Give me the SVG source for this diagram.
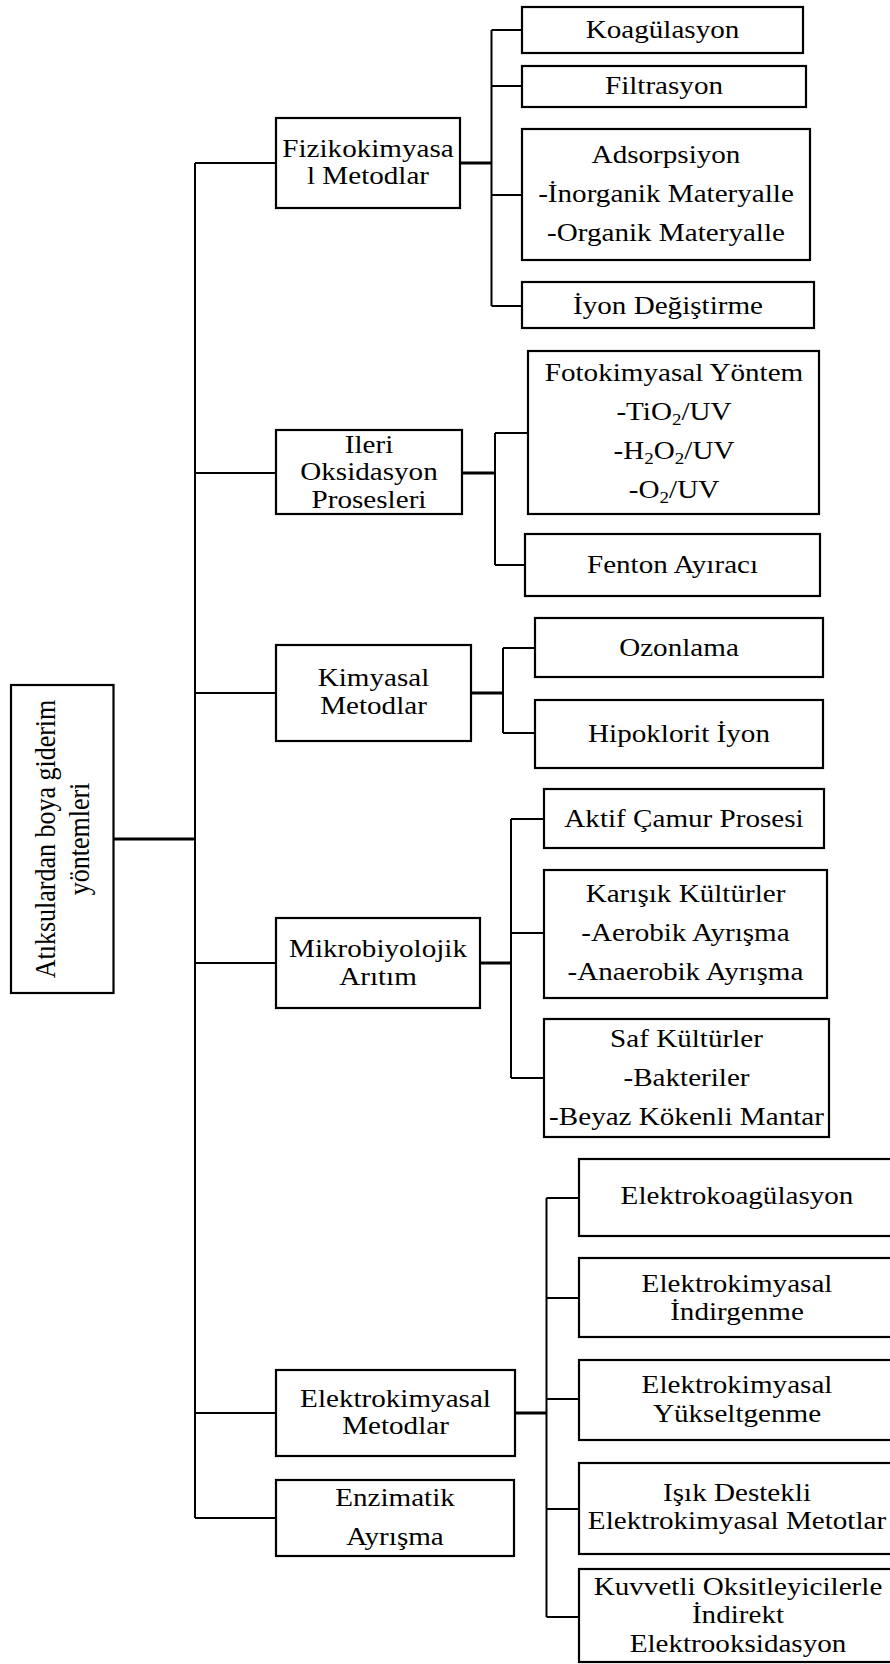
<svg xmlns="http://www.w3.org/2000/svg" width="890" height="1664" viewBox="0 0 890 1664">
<style>
rect{fill:#fff;stroke:#000;stroke-width:2.2}
text{font-family:"Liberation Serif","Times New Roman",serif;font-size:26px;text-anchor:middle;fill:#000}
.c path{fill:none;stroke:#000;stroke-width:2}
.c path.p{stroke-width:3}
.s{font-size:17px}
</style>
<rect x="0" y="0" width="890" height="1664" style="fill:#fff;stroke:none"/>
<g class="c" id="connectors">
<path class="p" d="M113.5 839H195"/>
<path d="M195 163V1518M195 163H276M195 473H276M195 693H276M195 963H276M195 1413H276M195 1518H276"/>
<path class="p" d="M460 163H491.5M462 473H495M471 693H503M480 963H511M515 1413H546.5"/>
<path d="M491.5 30V306M491.5 30H522M491.5 86H522M491.5 195H522M491.5 306H522"/>
<path d="M495 433V565M495 433H528M495 565H525"/>
<path d="M503 648V733M503 648H535M503 733H535"/>
<path d="M511 819V1078M511 819H544M511 933H544M511 1078H544"/>
<path d="M546.5 1198V1617M546.5 1198H579M546.5 1298H579M546.5 1399H579M546.5 1509H579M546.5 1617H579"/>
</g>
<g id="root"><rect x="11" y="685" width="102.5" height="308"/>
<text transform="translate(55,839) scale(1.12,1) rotate(-90)">Atıksulardan boya giderim</text>
<text transform="translate(89,839) scale(1.12,1) rotate(-90)">yöntemleri</text></g>
<g id="fiziko"><rect x="276" y="118" width="184" height="90"/>
<g transform="translate(368,0) scale(1.12,1)"><text y="156.7">Fizikokimyasa</text><text y="184.3">l Metodlar</text></g></g>
<g id="koag"><rect x="522" y="7" width="281" height="46"/>
<g transform="translate(662.5,0) scale(1.12,1)"><text y="38.5">Koagülasyon</text></g></g>
<g id="filtr"><rect x="522" y="66" width="284" height="41"/>
<g transform="translate(664,0) scale(1.12,1)"><text y="94.5">Filtrasyon</text></g></g>
<g id="adsorp"><rect x="522" y="129" width="288" height="131"/>
<g transform="translate(666,0) scale(1.12,1)"><text y="163.3">Adsorpsiyon</text><text y="202.3">-İnorganik Materyalle</text><text y="240.7">-Organik Materyalle</text></g></g>
<g id="iyon"><rect x="522" y="282" width="292" height="46"/>
<g transform="translate(668,0) scale(1.12,1)"><text y="313.6">İyon Değiştirme</text></g></g>
<g id="ileri"><rect x="276" y="430" width="186" height="84"/>
<g transform="translate(369,0) scale(1.12,1)"><text y="452.7">Ileri</text><text y="480">Oksidasyon</text><text y="508.3">Prosesleri</text></g></g>
<g id="foto"><rect x="528" y="351" width="291" height="163"/>
<g transform="translate(674,0) scale(1.12,1)"><text y="381">Fotokimyasal Yöntem</text><text y="420">-TiO<tspan class="s" dy="5">2</tspan><tspan dy="-5">/UV</tspan></text><text y="459.3">-H<tspan class="s" dy="5">2</tspan><tspan dy="-5">O</tspan><tspan class="s" dy="5">2</tspan><tspan dy="-5">/UV</tspan></text><text y="498.3">-O<tspan class="s" dy="5">2</tspan><tspan dy="-5">/UV</tspan></text></g></g>
<g id="fenton"><rect x="525" y="534" width="295" height="62"/>
<g transform="translate(672.5,0) scale(1.12,1)"><text y="572.7">Fenton Ayıracı</text></g></g>
<g id="kimyasal"><rect x="276" y="645" width="195" height="96"/>
<g transform="translate(373.5,0) scale(1.12,1)"><text y="686">Kimyasal</text><text y="714">Metodlar</text></g></g>
<g id="ozon"><rect x="535" y="618" width="288" height="59"/>
<g transform="translate(679,0) scale(1.12,1)"><text y="656">Ozonlama</text></g></g>
<g id="hipo"><rect x="535" y="700" width="288" height="68"/>
<g transform="translate(679,0) scale(1.12,1)"><text y="741.7">Hipoklorit İyon</text></g></g>
<g id="mikro"><rect x="276" y="918" width="204" height="90"/>
<g transform="translate(378,0) scale(1.12,1)"><text y="956.7">Mikrobiyolojik</text><text y="985">Arıtım</text></g></g>
<g id="aktif"><rect x="544" y="789" width="280" height="59"/>
<g transform="translate(684,0) scale(1.12,1)"><text y="826.7">Aktif Çamur Prosesi</text></g></g>
<g id="karisik"><rect x="544" y="870" width="283" height="128"/>
<g transform="translate(685.5,0) scale(1.12,1)"><text y="901.7">Karışık Kültürler</text><text y="941">-Aerobik Ayrışma</text><text y="980">-Anaerobik Ayrışma</text></g></g>
<g id="saf"><rect x="544" y="1019" width="285" height="118"/>
<g transform="translate(686.5,0) scale(1.12,1)"><text y="1046.7">Saf Kültürler</text><text y="1086">-Bakteriler</text><text y="1125">-Beyaz Kökenli Mantar</text></g></g>
<g id="elektrom"><rect x="276" y="1370" width="239" height="86"/>
<g transform="translate(395.5,0) scale(1.12,1)"><text y="1406.7">Elektrokimyasal</text><text y="1434.3">Metodlar</text></g></g>
<g id="enzim"><rect x="276" y="1480" width="238" height="76"/>
<g transform="translate(395,0) scale(1.12,1)"><text y="1505.7">Enzimatik</text><text y="1545">Ayrışma</text></g></g>
<g id="elkoag"><rect x="579" y="1159" width="313" height="77"/>
<g transform="translate(737,0) scale(1.12,1)"><text y="1204">Elektrokoagülasyon</text></g></g>
<g id="indirg"><rect x="579" y="1258" width="313" height="79"/>
<g transform="translate(737,0) scale(1.12,1)"><text y="1291.7">Elektrokimyasal</text><text y="1320">İndirgenme</text></g></g>
<g id="yukselt"><rect x="579" y="1360" width="313" height="80"/>
<g transform="translate(737,0) scale(1.12,1)"><text y="1393.3">Elektrokimyasal</text><text y="1421.7">Yükseltgenme</text></g></g>
<g id="isik"><rect x="579" y="1463" width="313" height="91"/>
<g transform="translate(737,0) scale(1.12,1)"><text y="1501">Işık Destekli</text><text y="1529">Elektrokimyasal Metotlar</text></g></g>
<g id="kuvvetli"><rect x="579" y="1569" width="313" height="93"/>
<g transform="translate(738,0) scale(1.12,1)"><text y="1595">Kuvvetli Oksitleyicilerle</text><text y="1623.3">İndirekt</text><text y="1651.7">Elektrooksidasyon</text></g></g>
</svg>
